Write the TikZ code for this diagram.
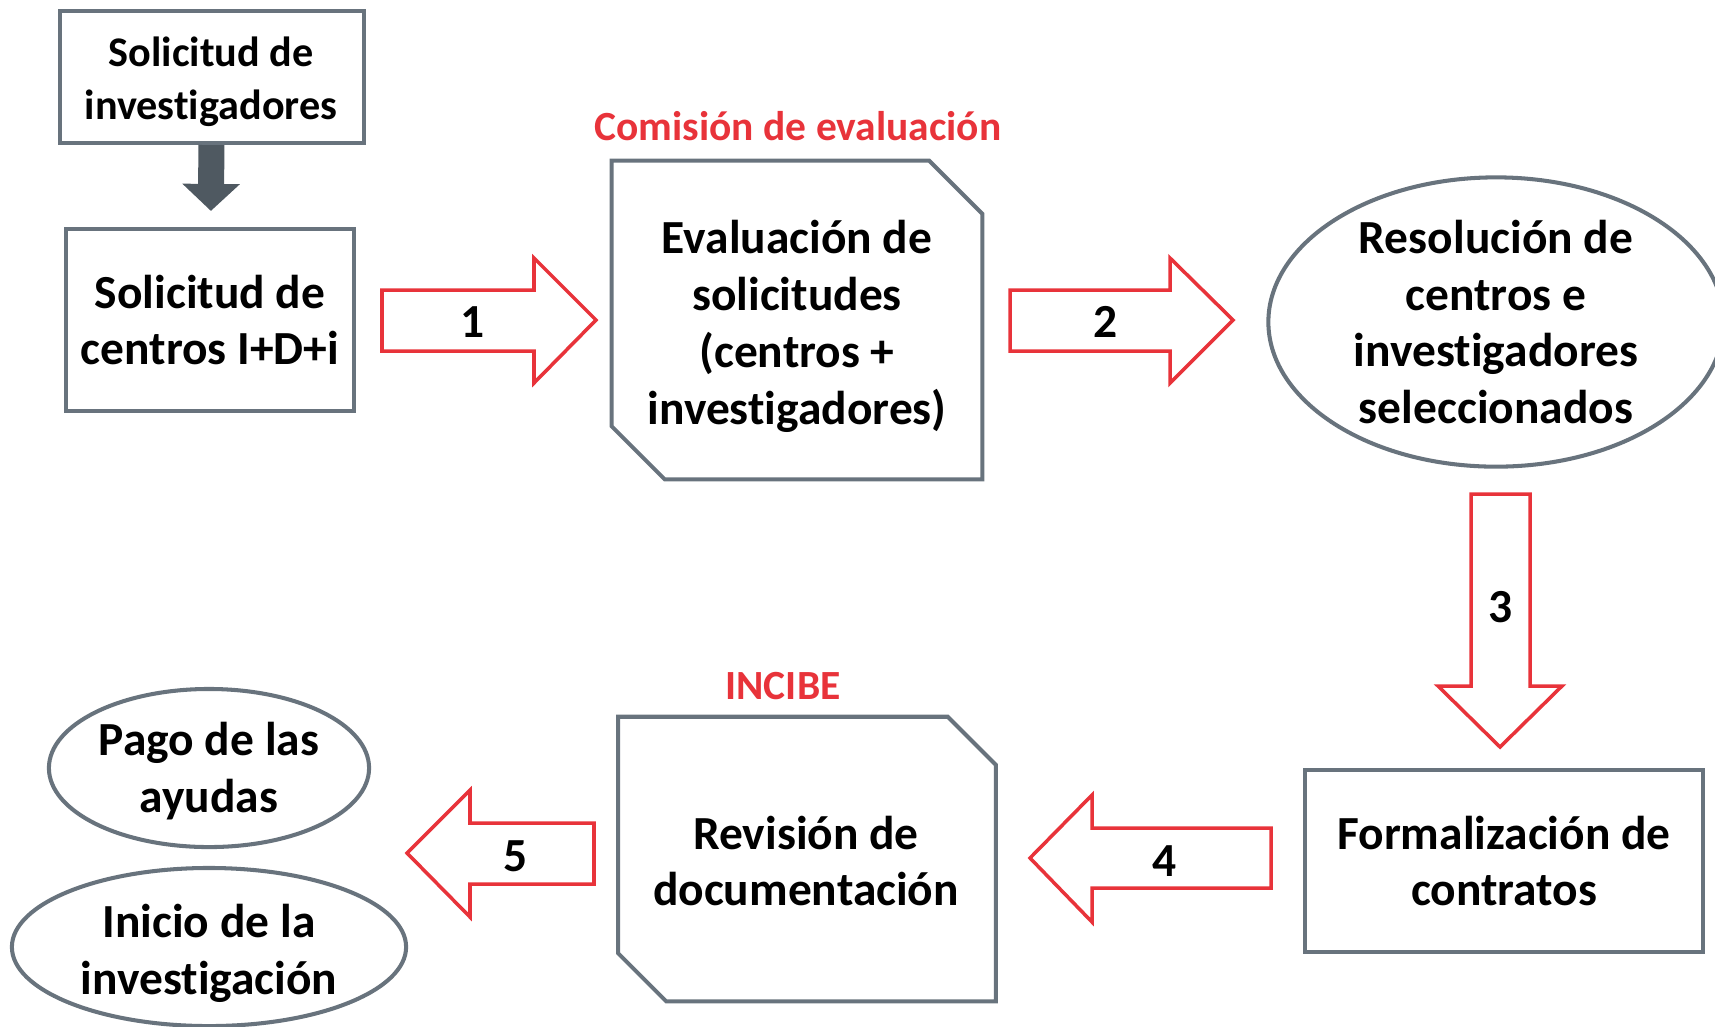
\documentclass[tikz,border=0pt]{standalone}
\usepackage{fontspec}
\setmainfont{Carlito}[Ligatures=NoCommon]
\usetikzlibrary{calc,shapes.geometric,arrows.meta}
\definecolor{gris}{RGB}{104,115,125}
\definecolor{grisosc}{RGB}{79,89,97}
\definecolor{rojo}{RGB}{232,51,58}

\begin{document}
\begin{tikzpicture}[x=0.01cm,y=-0.01cm,
    caja/.style={draw=gris,line width=1.15pt,fill=white,align=center,inner sep=0pt,
      font=\fontsize{13.5}{16.2}\selectfont\bfseries},
    elipse/.style={caja,ellipse},
    texto/.style={align=center,inner sep=0pt,font=\fontsize{13.5}{16.2}\selectfont\bfseries},
    borde/.style={draw=gris,line width=1.15pt,line join=miter},
    flecha/.style={draw=rojo,line width=1pt,fill=white,line join=miter},
    num/.style={inner sep=0pt,font=\fontsize{13.5}{16.2}\selectfont\bfseries},
    titulo/.style={text=rojo,inner sep=0pt,font=\fontsize{11.8}{14}\selectfont\bfseries}]
                \useasboundingbox (0,0) rectangle (1715,1026);
                %\draw[help lines,step=100] (0,0) grid (1715,1026);
                \node[caja,minimum width=3.04cm,minimum height=1.32cm] (si) at (212,77) {};
                \node[texto,font=\fontsize{12}{15}\selectfont\bfseries] (sit) at (211,82) {Solicitud de\\investigadores};
                \node[caja,minimum width=2.87cm,minimum height=1.82cm] (sc) at (210,320) {Solicitud de\\centros I+D+i};
                \draw[grisosc,line width=0.26cm,-{Triangle[width=0.56cm,length=0.27cm]},shorten >=0.16cm] (si) -- (sc);
                \node[minimum width=3.69cm,minimum height=3.17cm,inner sep=0pt] (ev) at (797,320) {};
                \node[texto] (evt) at (797,326) {Evaluación de\\solicitudes\\(centros +\\investigadores)};
                \draw[borde] (ev.north west) -- ($(ev.north east)+(-53,0)$) -- ($(ev.north east)+(0,53)$)
                  -- (ev.south east) -- ($(ev.south west)+(53,0)$) -- ($(ev.south west)+(0,-53)$) -- cycle;
                \node[titulo] (comision) at (798,126) {Comisión de evaluación};
                \node[elipse,minimum width=4.55cm,minimum height=2.84cm] (res) at (1496,322) {Resolución de\\centros e\\investigadores\\seleccionados};
                \node[caja,minimum width=3.98cm,minimum height=1.82cm] (fc) at (1504,861) {Formalización de\\contratos};
                \node[minimum width=3.76cm,minimum height=2.83cm,inner sep=0pt] (rd) at (807,859) {};
                \node[texto] (rdt) at (806,861) {Revisión de\\documentación};
                \draw[borde] (rd.north west) -- ($(rd.north east)+(-48,0)$) -- ($(rd.north east)+(0,48)$)
                  -- (rd.south east) -- ($(rd.south west)+(48,0)$) -- ($(rd.south west)+(0,-48)$) -- cycle;
                \node[titulo] (incibe) at (783,686) {INCIBE};
                \node[elipse,minimum width=3.2cm,minimum height=1.58cm] (pago) at (209,768) {};
                \node[texto] (pagot) at (209,771) {Pago de las\\ayudas};
                \node[elipse,minimum width=3.94cm,minimum height=1.58cm] (inicio) at (209,947) {};
                \node[texto] (iniciot) at (209,953) {Inicio de la\\investigación};
                \draw[flecha] (382,290) -- (534,290) -- (534,258) -- (596,320) -- (534,383) -- (534,351) -- (382,351) -- cycle;
                \node[num] (n1) at (473,322) {1};
                \draw[flecha] (1010,290) -- (1170,290) -- (1170,258) -- (1233,320) -- (1170,383) -- (1170,351) -- (1010,351) -- cycle;
                \node[num] (n2) at (1106,322) {2};
                \draw[flecha] (1471,494) -- (1530,494) -- (1530,686) -- (1562,686) -- (1500,747) -- (1438,686) -- (1471,686) -- cycle;
                \node[num] (n3) at (1501,607) {3};
                \draw[flecha] (1271,828) -- (1092,828) -- (1092,795) -- (1030,858) -- (1092,922) -- (1092,888) -- (1271,888) -- cycle;
                \node[num] (n4) at (1165,861) {4};
                \draw[flecha] (594,823) -- (470,823) -- (470,790) -- (407,853) -- (470,917) -- (470,884) -- (594,884) -- cycle;
                \node[num] (n5) at (516,856) {5};
            \end{tikzpicture}
\end{document}
